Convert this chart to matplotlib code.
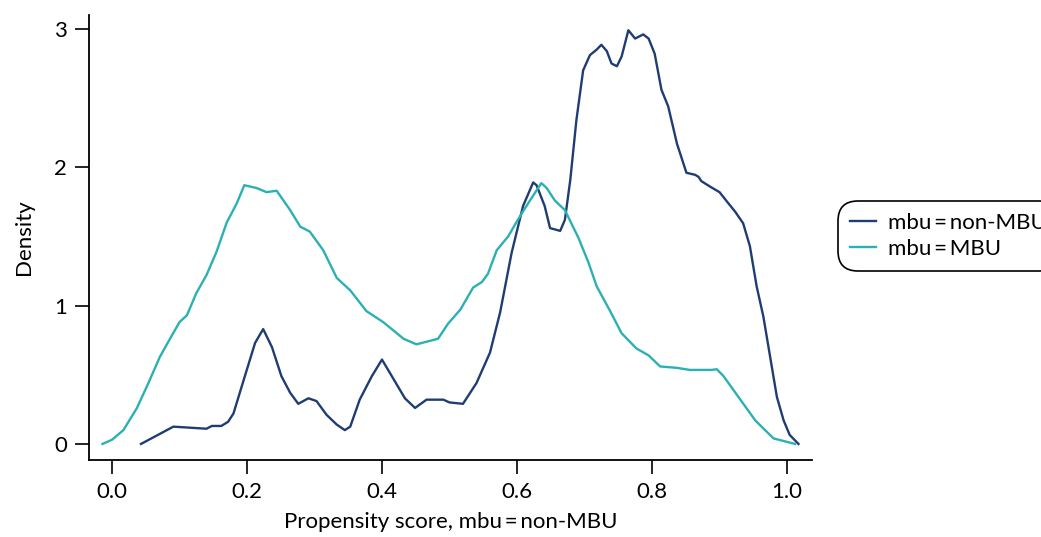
import matplotlib
matplotlib.use("Agg")
import matplotlib.pyplot as plt

plt.rcParams['font.family'] = ['Lato', 'DejaVu Sans']

# propensity score density, mbu = non-MBU
x_non = [0.043, 0.091, 0.140, 0.148, 0.162, 0.172, 0.180, 0.195, 0.212, 0.224,
         0.237, 0.251, 0.264, 0.276, 0.291, 0.303, 0.318, 0.333, 0.345, 0.353,
         0.367, 0.385, 0.400, 0.417, 0.434, 0.449, 0.466, 0.491, 0.500, 0.520,
         0.540, 0.560, 0.575, 0.592, 0.609, 0.624, 0.629, 0.641, 0.649, 0.664,
         0.671, 0.679, 0.688, 0.698, 0.708, 0.718, 0.725, 0.733, 0.740, 0.748,
         0.755, 0.765, 0.775, 0.787, 0.795, 0.804, 0.814, 0.824, 0.837, 0.851,
         0.864, 0.869, 0.873, 0.886, 0.900, 0.913, 0.923, 0.935, 0.945, 0.955,
         0.965, 0.975, 0.985, 0.995, 1.004, 1.017]
y_non = [0.00, 0.125, 0.11, 0.13, 0.13, 0.16, 0.22, 0.46, 0.73, 0.83,
         0.70, 0.49, 0.37, 0.29, 0.33, 0.31, 0.21, 0.14, 0.10, 0.125,
         0.32, 0.49, 0.61, 0.47, 0.33, 0.26, 0.32, 0.32, 0.30, 0.29,
         0.44, 0.66, 0.95, 1.38, 1.72, 1.89, 1.87, 1.72, 1.56, 1.54,
         1.62, 1.91, 2.34, 2.70, 2.81, 2.85, 2.885, 2.84, 2.75, 2.73,
         2.80, 2.99, 2.93, 2.96, 2.93, 2.82, 2.56, 2.44, 2.17, 1.96,
         1.945, 1.93, 1.90, 1.86, 1.82, 1.74, 1.68, 1.595, 1.43, 1.14,
         0.92, 0.63, 0.34, 0.17, 0.065, 0.00]

# mbu = MBU
x_mbu = [-0.014, 0.000, 0.017, 0.037, 0.054, 0.071, 0.086, 0.100, 0.111, 0.125,
         0.140, 0.155, 0.170, 0.185, 0.196, 0.214, 0.229, 0.244, 0.264, 0.279,
         0.293, 0.313, 0.333, 0.353, 0.377, 0.402, 0.432, 0.451, 0.471, 0.483,
         0.498, 0.516, 0.535, 0.548, 0.557, 0.570, 0.587, 0.600, 0.614, 0.636,
         0.644, 0.656, 0.671, 0.691, 0.706, 0.718, 0.738, 0.755, 0.777, 0.795,
         0.812, 0.837, 0.856, 0.888, 0.896, 0.906, 0.928, 0.953, 0.980, 1.012]
y_mbu = [0.00, 0.03, 0.10, 0.26, 0.44, 0.63, 0.76, 0.88, 0.93, 1.09,
         1.22, 1.39, 1.60, 1.74, 1.87, 1.85, 1.82, 1.83, 1.69, 1.57,
         1.535, 1.40, 1.20, 1.11, 0.96, 0.88, 0.76, 0.72, 0.745, 0.76,
         0.87, 0.97, 1.13, 1.17, 1.23, 1.40, 1.50, 1.61, 1.72, 1.885,
         1.85, 1.76, 1.69, 1.49, 1.31, 1.14, 0.96, 0.80, 0.69, 0.64,
         0.56, 0.55, 0.535, 0.535, 0.54, 0.49, 0.34, 0.17, 0.04, 0.00]

labels = ['mbu\u2009=\u2009non-MBU', 'mbu\u2009=\u2009MBU']
colors = ['#1f3d73', '#2bb0b3']
x_ticks = [0.0, 0.2, 0.4, 0.6, 0.8, 1.0]
y_ticks = [0, 1, 2, 3]

fig = plt.figure(figsize=(10.41, 5.37), dpi=100)
ax = fig.add_axes([0.0855, 0.1434, 0.6945, 0.8286])

ax.plot(x_non, y_non, color=colors[0], lw=1.7, label=labels[0])
ax.plot(x_mbu, y_mbu, color=colors[1], lw=1.7, label=labels[1])

ax.set_xlim(-0.034, 1.037)
ax.set_ylim(-0.116, 3.10)
ax.set_xticks(x_ticks)
ax.set_xticklabels([f'{t:.1f}' for t in x_ticks])
ax.set_yticks(y_ticks)
ax.spines['top'].set_visible(False)
ax.spines['right'].set_visible(False)
for s in ['left', 'bottom']:
    ax.spines[s].set_linewidth(1.3)
ax.tick_params(direction='out', length=10, width=1.2, labelsize=16, pad=6)

ax.set_xlabel('Propensity score, mbu\u2009=\u2009non-MBU', fontsize=16, labelpad=7)
ax.set_ylabel('Density', fontsize=16, labelpad=14)

# legend sits partly outside the figure, as in the original
leg = ax.legend(loc='upper left', bbox_to_anchor=(0.805, 0.626),
                bbox_transform=fig.transFigure, fontsize=16, frameon=True,
                fancybox=True, edgecolor='black', handlelength=1.15,
                handletextpad=0.55, borderpad=0.55, labelspacing=0.25,
                borderaxespad=0)
frame = leg.get_frame()
frame.set_linewidth(1.2)
frame.set_alpha(1)
frame.set_boxstyle('round', pad=0, rounding_size=0.9)

fig.savefig('out.png', dpi=100)
